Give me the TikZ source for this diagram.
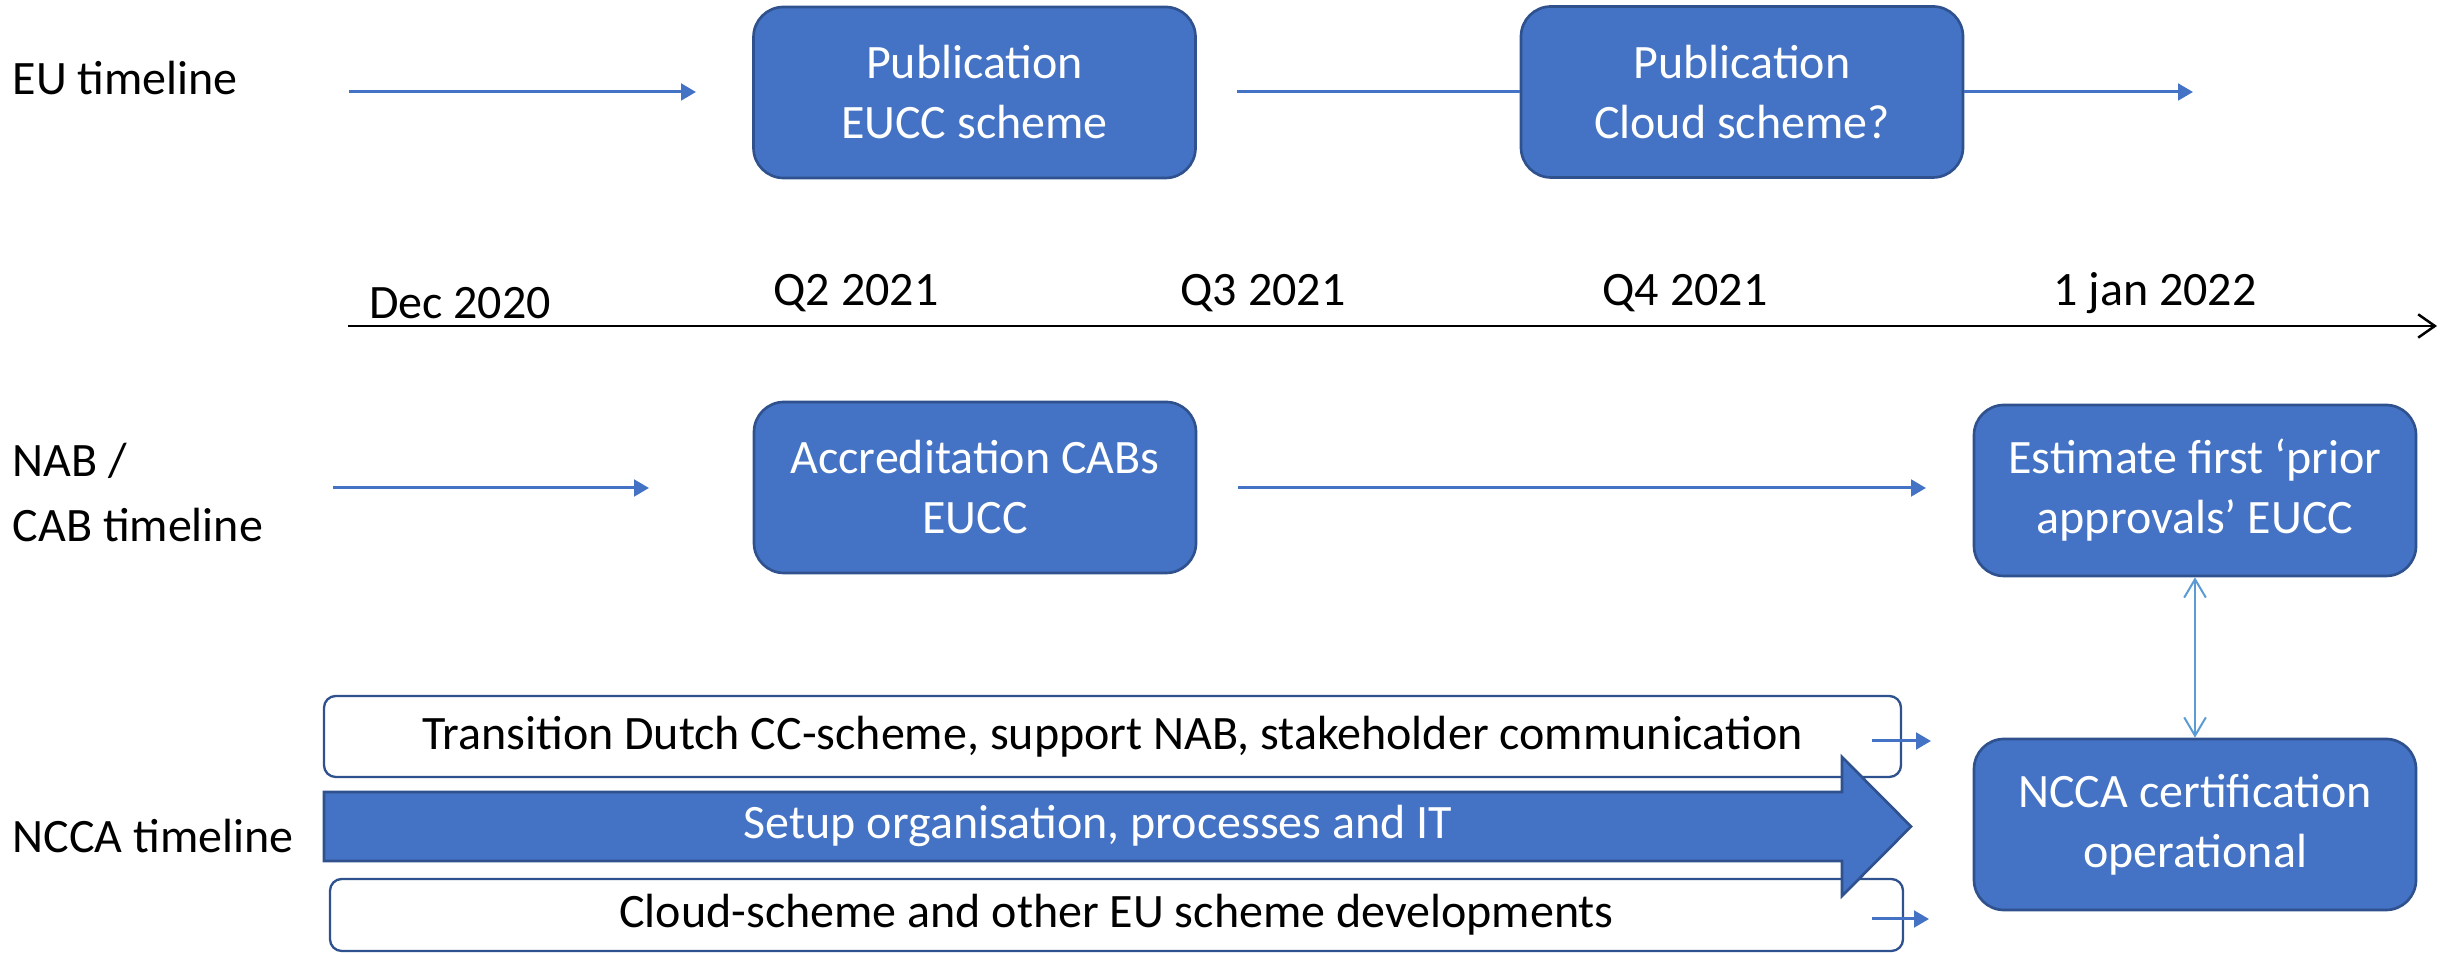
\documentclass[tikz,border=0pt]{standalone}
\usepackage{fontspec}
\setmainfont{Carlito}
\usetikzlibrary{arrows.meta}
\definecolor{boxblue}{HTML}{4472C4}
\definecolor{boxedge}{HTML}{2F528F}
\definecolor{lightblue}{HTML}{5B9BD5}
\begin{document}
\begin{tikzpicture}[x=0.3pt,y=-0.3pt,
  every node/.style={font=\fontsize{14.4pt}{18pt}\selectfont},
  bluebox/.style={draw=boxedge, line width=0.8pt, fill=boxblue, rounded corners=9pt,
    text=white, align=center, minimum width=132.6pt, minimum height=51.3pt, inner sep=0pt},
  lanebox/.style={draw=boxedge, line width=0.7pt, fill=white, rounded corners=3.5pt,
    text=black, inner sep=0pt},
  flowarrow/.style={draw=boxblue, line width=0.9pt, -{Triangle[length=4.5pt,width=5pt]}},
  flowline/.style={draw=boxblue, line width=0.9pt},
  lanelabel/.style={anchor=west, inner sep=0pt, align=left},
  datelbl/.style={inner sep=0pt}]
\useasboundingbox (0,0) rectangle (2443,953);

% lane labels
\node[lanelabel] (lEU) at (12,78) {EU timeline};
\node[lanelabel] (lNAB) at (12,493) {NAB /\\[1.5pt]CAB timeline};
\node[lanelabel] (lNCCA) at (12,836) {NCCA timeline};

% EU row
\node[bluebox] (pub1) at (974.5,92.5) {Publication\\EUCC scheme};
\node[bluebox] (pub2) at (1742,92) {Publication\\Cloud scheme?};
\coordinate (eu0) at (349,92);
\coordinate (eu1) at (696,92);
\coordinate (eu2) at (1237,92);
\coordinate (eu3) at (2193,92);
\draw[flowarrow] (eu0) -- (eu1);
\draw[flowline] (eu2) -- (pub2.west);
\draw[flowarrow] (pub2.east) -- (eu3);

% axis
\coordinate (ax0) at (348,326);
\coordinate (ax1) at (2437,326);
\draw[black, line width=0.75pt, -{Straight Barb[length=5pt,width=7pt]}] (ax0) -- (ax1);
\node[datelbl] (d0) at (460,303) {Dec 2020};
\node[datelbl] (d1) at (856,293) {Q2 2021};
\node[datelbl] (d2) at (1263,293) {Q3 2021};
\node[datelbl] (d3) at (1685,293) {Q4 2021};
\node[datelbl] (d4) at (2155,293) {1 jan 2022};

% NAB row
\node[bluebox] (accr) at (975,487.5) {Accreditation CABs\\EUCC};
\node[bluebox] (est) at (2195,490.5) {Estimate first ‘prior\\approvals’ EUCC};
\coordinate (nab0) at (333,488);
\coordinate (nab1) at (649,488);
\coordinate (nab2) at (1238,488);
\coordinate (nab3) at (1926,488);
\draw[flowarrow] (nab0) -- (nab1);
\draw[flowarrow] (nab2) -- (nab3);

% NCCA row
\node[bluebox] (ncca) at (2195,824.5) {NCCA certification\\operational};
\draw[draw=lightblue, line width=0.6pt, {Straight Barb[length=5.5pt,width=6.5pt]}-{Straight Barb[length=5.5pt,width=6.5pt]}] (est.south) -- (ncca.north);

\node[lanebox, minimum width=473.1pt, minimum height=24.3pt] (trans) at (1112.5,736.5)
  {Transition Dutch CC-scheme, support NAB, stakeholder communication};
\node[lanebox, minimum width=471.9pt, minimum height=21.6pt] (cloud) at (1116.5,915)
  {Cloud-scheme and other EU scheme developments};

\coordinate (t0) at (1872,741);
\coordinate (t1) at (1931,741);
\coordinate (c0) at (1872,919);
\coordinate (c1) at (1929,919);
\draw[flowarrow] (t0) -- (t1);
\draw[flowarrow] (c0) -- (c1);

% big arrow
\draw[draw=boxedge, line width=0.8pt, fill=boxblue]
  (324,792) -- (1842,792) -- (1842,757) -- (1911,826.5) -- (1842,896) -- (1842,861) -- (324,861) -- cycle;
\node[text=white, inner sep=0pt] (setup) at (1098,826) {Setup organisation, processes and IT};
\end{tikzpicture}
\end{document}
